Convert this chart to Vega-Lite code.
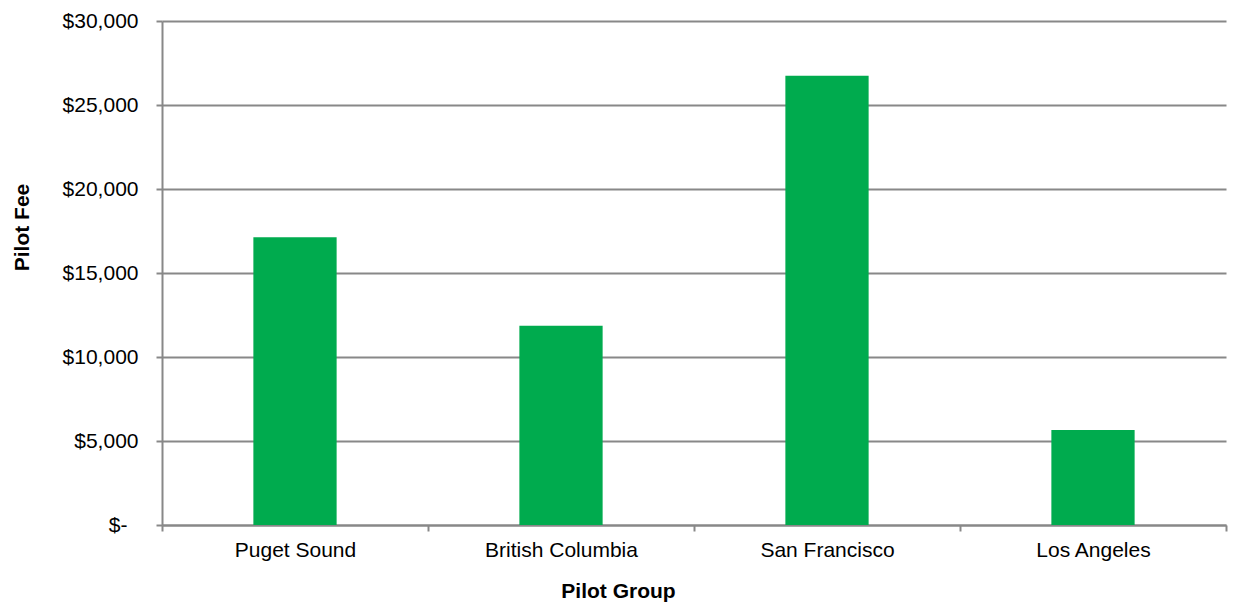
{
  "$schema": "https://vega.github.io/schema/vega-lite/v6.json",
  "autosize": "none",
  "width": 1064,
  "height": 504,
  "padding": {"left": 162, "top": 21, "right": 11, "bottom": 79},
  "background": "white",
  "config": {
    "view": {"stroke": null},
    "font": "Liberation Sans"
  },
  "data": {
    "values": [
      {"group": "Puget Sound", "fee": 17125},
      {"group": "British Columbia", "fee": 11860},
      {"group": "San Francisco", "fee": 26745},
      {"group": "Los Angeles", "fee": 5655}
    ]
  },
  "mark": {"type": "bar", "color": "#00AB4E", "width": {"band": 0.313}},
  "encoding": {
    "x": {
      "field": "group",
      "type": "nominal",
      "sort": null,
      "scale": {"paddingInner": 0, "paddingOuter": 0},
      "axis": {
        "title": "Pilot Group",
        "titleFont": "Liberation Sans",
        "titleFontSize": 21,
        "titleFontWeight": "bold",
        "titleColor": "#000",
        "titleX": 456,
        "titleY": 66,
        "titleBaseline": "middle",
        "labelAngle": 0,
        "labelFont": "Liberation Sans",
        "labelFontSize": 21,
        "labelColor": "#000",
        "labelPadding": 8,
        "tickBand": "extent",
        "tickSize": 6,
        "tickColor": "#888",
        "tickWidth": 2,
        "domainColor": "#888",
        "domainWidth": 2,
        "grid": false
      }
    },
    "y": {
      "field": "fee",
      "type": "quantitative",
      "scale": {"domain": [0, 30000], "nice": false},
      "axis": {
        "title": "Pilot Fee",
        "titleFont": "Liberation Sans",
        "titleFontSize": 21,
        "titleFontWeight": "bold",
        "titleColor": "#000",
        "titleX": -140,
        "titleY": 206,
        "titleBaseline": "middle",
        "values": [0, 5000, 10000, 15000, 20000, 25000, 30000],
        "labelExpr": "datum.value == 0 ? '$-' : '$' + format(datum.value, ',')",
        "labelFont": "Liberation Sans",
        "labelFontSize": 21,
        "labelColor": "#000",
        "labelPadding": {"condition": {"test": "datum.value == 0", "value": 29}, "value": 18},
        "tickSize": 6,
        "tickColor": "#888",
        "tickWidth": 2,
        "domainColor": "#888",
        "domainWidth": 2,
        "grid": true,
        "gridColor": "#888",
        "gridWidth": 2
      }
    }
  }
}
